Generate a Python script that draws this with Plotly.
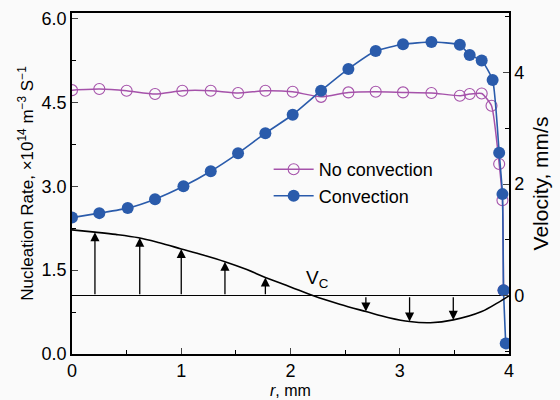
import plotly.graph_objects as go

# ---- data ----
r_noconv = [0.0, 0.25, 0.50, 0.76, 1.01, 1.27, 1.52, 1.77, 2.02, 2.28, 2.53, 2.78,
            3.03, 3.29, 3.55, 3.64, 3.75, 3.84, 3.91, 3.94, 3.95]
nr_noconv = [4.72, 4.74, 4.71, 4.65, 4.71, 4.71, 4.67, 4.71, 4.69, 4.60, 4.68, 4.69,
             4.68, 4.67, 4.62, 4.65, 4.66, 4.44, 3.40, 2.75, 1.14]

r_conv = [0.0, 0.25, 0.51, 0.76, 1.02, 1.27, 1.52, 1.77, 2.02, 2.28, 2.53, 2.78,
          3.03, 3.29, 3.55, 3.64, 3.75, 3.85, 3.91, 3.94, 3.95, 3.97]
nr_conv = [2.44, 2.52, 2.61, 2.77, 3.00, 3.27, 3.59, 3.95, 4.28, 4.71, 5.10, 5.42,
           5.54, 5.58, 5.53, 5.35, 5.25, 4.90, 3.60, 2.86, 1.14, 0.19]

vc_r = [0.0, 0.21, 0.40, 0.61, 0.80, 1.00, 1.20, 1.40, 1.60, 1.77, 2.00, 2.21,
        2.45, 2.69, 2.90, 3.09, 3.28, 3.49, 3.75, 3.90, 4.00]
vc_v = [1.18, 1.14, 1.10, 1.04, 0.95, 0.84, 0.73, 0.61, 0.47, 0.33, 0.16, 0.0,
        -0.15, -0.28, -0.39, -0.46, -0.48, -0.43, -0.28, -0.12, 0.0]

arrow_r = [0.21, 0.62, 1.00, 1.40, 1.77, 2.69, 3.09, 3.49]
arrow_v = [1.14, 1.04, 0.84, 0.61, 0.33, -0.28, -0.46, -0.43]

left_ticks = [0.0, 1.5, 3.0, 4.5, 6.0]
right_ticks = [0, 2, 4]
x_ticks = [0, 1, 2, 3, 4]

BLUE = "#2a5bab"
PURPLE = "#a552aa"
FONT = "Liberation Sans, Arial, sans-serif"

fig = go.Figure()

fig.add_trace(go.Scatter(
    x=vc_r, y=vc_v, yaxis="y2", mode="lines", line=dict(color="black", width=1.6, shape="spline"),
    showlegend=False, hoverinfo="skip"))

fig.add_trace(go.Scatter(
    x=r_noconv, y=nr_noconv, name="No convection", mode="lines+markers",
    line=dict(color=PURPLE, width=1.5, shape="spline", smoothing=0.5),
    marker=dict(symbol="circle-open", size=11, color=PURPLE, line=dict(width=1.1))))

fig.add_trace(go.Scatter(
    x=r_conv, y=nr_conv, name="Convection", mode="lines+markers",
    line=dict(color=BLUE, width=1.6, shape="spline", smoothing=0.5),
    marker=dict(symbol="circle", size=12, color=BLUE)))

for ar, av in zip(arrow_r, arrow_v):
    fig.add_annotation(x=ar, y=av, xref="x", yref="y2", ax=ar, ay=0, axref="x", ayref="y2",
                       showarrow=True, arrowhead=2, arrowsize=1.4, arrowwidth=1.3,
                       arrowcolor="black", standoff=0, text="")

fig.add_annotation(x=2.12, y=0.31, xref="x", yref="y2", text="V<sub>C</sub>",
                   showarrow=False, font=dict(size=19, color="black", family=FONT),
                   xanchor="left", yanchor="middle")

# x-axis title placed as an annotation below tick labels
fig.add_annotation(x=0.5, y=-0.108, xref="paper", yref="paper", text="<i>r</i>, mm",
                   showarrow=False, font=dict(size=16, color="black", family=FONT),
                   xanchor="center", yanchor="middle", borderpad=0)

fig.update_layout(
    width=560, height=400,
    margin=dict(l=72, r=51, t=13, b=46),
    paper_bgcolor="#fafafa", plot_bgcolor="#fafafa",
    font=dict(family=FONT, color="black", size=18),
    showlegend=True,
    legend=dict(x=0.45, y=0.595, xanchor="left", yanchor="top", bgcolor="rgba(0,0,0,0)",
                font=dict(size=18, family=FONT), tracegroupgap=0, itemwidth=40),
    xaxis=dict(range=[0, 4], tickvals=x_ticks, ticks="inside", ticklen=6, tickwidth=1,
               showline=True, linecolor="black", linewidth=1.5, mirror=True,
               showgrid=False, zeroline=False, ticklabelstandoff=0, automargin=False,
               minor=dict(ticks="inside", dtick=0.5, ticklen=4, tickcolor="black", showgrid=False),
               tickfont=dict(size=18)),
    yaxis=dict(range=[0, 6.1], tickvals=left_ticks, ticktext=["%.1f" % v for v in left_ticks],
               ticks="inside", ticklen=6, tickwidth=1, automargin=False,
               showline=True, linecolor="black", linewidth=1.5, showgrid=False, zeroline=False,
               minor=dict(ticks="inside", dtick=0.75, ticklen=4, tickcolor="black", showgrid=False),
               title=dict(text="Nucleation Rate, \u00d710<sup>14</sup> m<sup>\u22123</sup> S<sup>\u22121</sup>",
                          font=dict(size=17), standoff=4),
               tickfont=dict(size=18)),
    yaxis2=dict(range=[-1.04, 5.06], overlaying="y", side="right", tickvals=right_ticks,
                ticks="inside", ticklen=6, tickwidth=1, automargin=False,
                showline=True, linecolor="black", linewidth=1.5, showgrid=False,
                zeroline=True, zerolinecolor="black", zerolinewidth=1,
                minor=dict(ticks="inside", dtick=1, ticklen=4, tickcolor="black", showgrid=False),
                title=dict(text="Velocity, mm/s", font=dict(size=21), standoff=10),
                tickfont=dict(size=18)),
)

fig.write_html("out.html")
